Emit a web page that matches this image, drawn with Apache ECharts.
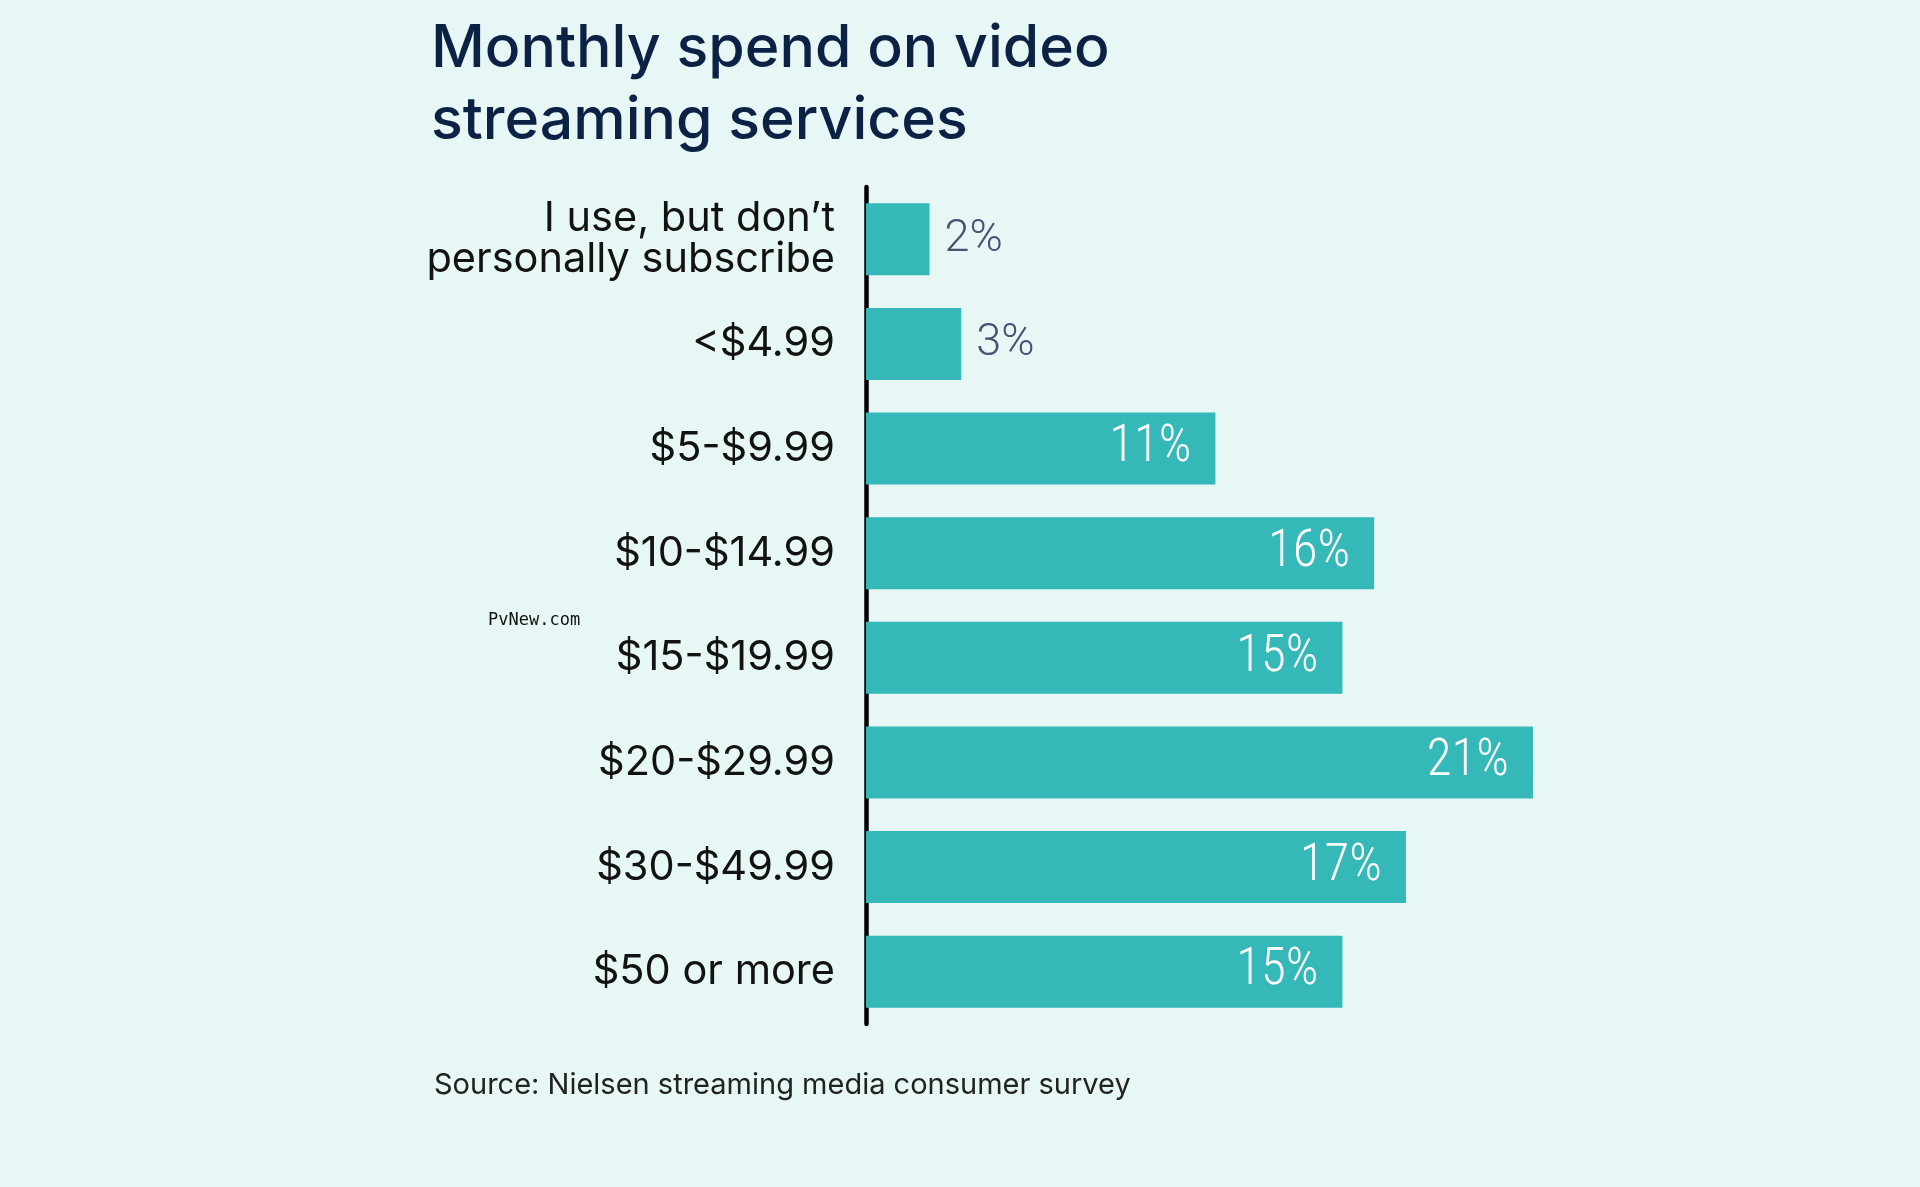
<!DOCTYPE html>
<html>
<head>
<meta charset="utf-8">
<style>
  html, body { margin: 0; padding: 0; background: #e7f7f5; }
  #chart { width: 1920px; height: 1187px; }
</style>
<script src="https://cdn.jsdelivr.net/npm/echarts@6/dist/echarts.min.js"></script>
</head>
<body>
<div id="chart"></div>
<script>
// ---- Data ----
const categories = [
  "I use, but don\u2019t\npersonally subscribe",
  "<$4.99",
  "$5-$9.99",
  "$10-$14.99",
  "$15-$19.99",
  "$20-$29.99",
  "$30-$49.99",
  "$50 or more"
];
const shares = [2, 3, 11, 16, 15, 21, 17, 15];
const titleText = "Monthly spend on video\nstreaming services";
const sourceText = "Source: Nielsen streaming media consumer survey";
const watermarkText = "PvNew.com";

// ---- Build ----
const barColor = "#35b9b8";
const condensedFont = "'Roboto Condensed', 'Liberation Sans Narrow', 'DejaVu Sans Condensed', Roboto, sans-serif";
const seriesData = shares.map(function (v) {
  const inside = v >= 5;
  return {
    value: v,
    label: inside ? {
      position: "insideRight",
      distance: 24,
      color: "#ffffff",
      fontFamily: condensedFont,
      fontWeight: 300,
      fontSize: 51
    } : {
      position: "right",
      distance: 15,
      color: "#4b5170",
      fontFamily: "Roboto",
      fontWeight: 300,
      fontSize: 45
    }
  };
});

const chart = echarts.init(document.getElementById("chart"), null, { renderer: "canvas" });
chart.setOption({
  backgroundColor: "#e7f7f5",
  animation: false,
  title: [{
    text: titleText,
    left: 426,
    top: 8,
    textStyle: {
      fontFamily: "Inter",
      fontSize: 59,
      fontWeight: 500,
      color: "#0c2245",
      lineHeight: 72
    }
  }, {
    text: sourceText,
    left: 429,
    top: 1062,
    textStyle: {
      fontFamily: "Inter",
      fontSize: 29,
      fontWeight: 400,
      color: "#222222",
      lineHeight: 36
    }
  }],
  graphic: [{
    type: "text",
    left: 488,
    top: 612,
    style: {
      text: watermarkText,
      fontFamily: "DejaVu Sans Mono",
      fontSize: 17,
      fill: "#111111"
    }
  }],
  grid: {
    left: 866,
    right: 260,
    top: 187,
    bottom: 163,
    containLabel: false
  },
  xAxis: {
    type: "value",
    min: 0,
    max: 25,
    show: false,
    splitLine: { show: false }
  },
  yAxis: {
    type: "category",
    data: categories,
    inverse: true,
    offset: 3,
    axisLine: { show: true, lineStyle: { color: "#000000", width: 4.5 } },
    axisTick: { show: false },
    splitLine: { show: false },
    axisLabel: {
      fontFamily: "Inter",
      fontSize: 41.5,
      color: "#121212",
      margin: 28,
      lineHeight: 41,
      padding: [8, 0, 0, 0]
    }
  },
  series: [{
    type: "bar",
    data: seriesData,
    barWidth: 72,
    itemStyle: { color: barColor },
    label: {
      show: true,
      formatter: function (p) { return p.value + "%"; }
    },
    z: 1
  }]
});
</script>
</body>
</html>
